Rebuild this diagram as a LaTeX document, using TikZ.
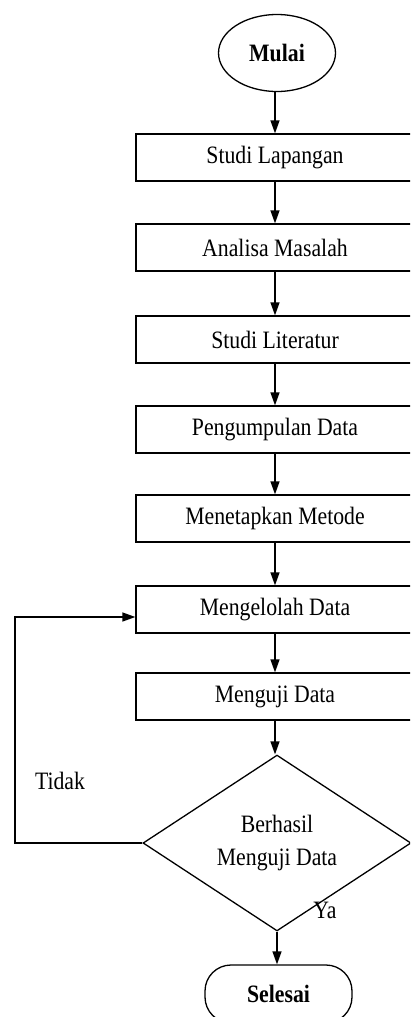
\documentclass[tikz,border=0pt]{standalone}
\usepackage{fontspec}
\setmainfont{Liberation Serif}[FakeStretch=0.87]
\usetikzlibrary{arrows.meta,shapes.geometric}
\begin{document}
\begin{tikzpicture}[x=1pt,y=-1pt,
  font=\fontsize{25}{33}\selectfont,
  line width=1.3pt,
  arr/.style={-{Triangle[length=13pt,width=9pt]}},
  procbox/.style={draw,rectangle,minimum width=278pt,minimum height=47pt,inner sep=0pt},
  lbl/.style={inner sep=0pt}]
\useasboundingbox (0,0) rectangle (410,1017);
\clip (0,0) rectangle (410,1017);
\node[draw,ellipse,minimum width=117pt,minimum height=77pt,inner sep=0pt,font=\fontsize{25}{33}\selectfont\bfseries] (mulai) at (277,53) {Mulai};
\node[procbox] (b1) at (275,157.5) {Studi Lapangan};
\node[procbox] (b2) at (275,247.5) {Analisa Masalah};
\node[procbox] (b3) at (275,339.5) {Studi Literatur};
\node[procbox] (b4) at (275,429.5) {Pengumpulan Data};
\node[procbox] (b5) at (275,518.5) {Menetapkan Metode};
\node[procbox] (b6) at (275,609.5) {Mengelolah Data};
\node[procbox] (b7) at (275,696.5) {Menguji Data};
\node[draw,diamond,minimum width=268pt,minimum height=156pt,inner sep=0pt,align=center] (dec) at (277,843) {Berhasil\\Menguji Data};
\node[draw,rectangle,rounded corners=26pt,minimum width=147pt,minimum height=58pt,inner sep=0pt,font=\fontsize{25}{33}\selectfont\bfseries] (selesai) at (278.5,994) {Selesai};
\node[lbl] (ya) at (325,910) {Ya};
\node[lbl] (tidak) at (60,781) {Tidak};
\coordinate (c1) at (15,843);
\coordinate (c2) at (15,617);
\coordinate (c3) at (b6.west |- c2);
\draw[arr] (mulai.south -| b1.north) -- (b1.north);
\draw[arr] (b1.south) -- (b2.north);
\draw[arr] (b2.south) -- (b3.north);
\draw[arr] (b3.south) -- (b4.north);
\draw[arr] (b4.south) -- (b5.north);
\draw[arr] (b5.south) -- (b6.north);
\draw[arr] (b6.south) -- (b7.north);
\draw[arr] (b7.south) -- (b7.south |- dec.north);
\draw[arr] (dec.south) -- (dec.south |- selesai.north);
\draw[arr] (dec.west) -- (c1) -- (c2) -- (c3);
\end{tikzpicture}
\end{document}
